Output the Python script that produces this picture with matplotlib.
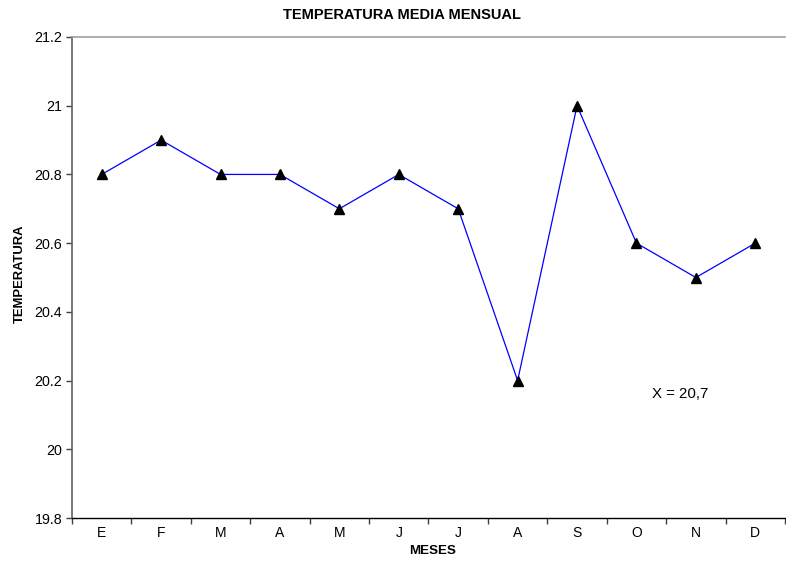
import matplotlib
matplotlib.use("Agg")
import matplotlib.pyplot as plt
from matplotlib.ticker import FixedLocator, NullFormatter

plt.rcParams['font.family'] = ['Liberation Sans', 'DejaVu Sans']

months = ["E", "F", "M", "A", "M", "J", "J", "A", "S", "O", "N", "D"]
temps = [20.8, 20.9, 20.8, 20.8, 20.7, 20.8, 20.7, 20.2, 21.0, 20.6, 20.5, 20.6]
yticks = [19.8, 20.0, 20.2, 20.4, 20.6, 20.8, 21.0, 21.2]
ytick_labels = ["19.8", "20", "20.2", "20.4", "20.6", "20.8", "21", "21.2"]
title = "TEMPERATURA MEDIA MENSUAL"
xlabel = "MESES"
ylabel = "TEMPERATURA"
note = "X = 20,7"

fig = plt.figure(figsize=(7.86, 5.62), dpi=100)
ax = fig.add_axes([72/786, 1-518/562, 713/786, (518-37)/562])

x = list(range(len(months)))
ax.plot(x, temps, color="#0000ff", linewidth=0.9, marker="^", markersize=7,
        markerfacecolor="black", markeredgecolor="black", zorder=3)

ax.set_xlim(-0.5, len(months) - 0.5)
ax.set_ylim(yticks[0], yticks[-1])
ax.set_yticks(yticks)
ax.set_yticklabels(ytick_labels, fontsize=10.3)

ax.xaxis.set_major_locator(FixedLocator([i - 0.5 for i in range(len(months) + 1)]))
ax.xaxis.set_major_formatter(NullFormatter())
ax.xaxis.set_minor_locator(FixedLocator(x))
ax.set_xticklabels(months, minor=True, fontsize=10)
ax.tick_params(axis="x", which="minor", length=0, pad=6)
ax.tick_params(axis="x", which="major", length=4, width=1, color="#404040", direction="out")
ax.tick_params(axis="y", length=4, width=1, color="#404040", direction="out", pad=3)

ax.spines["right"].set_visible(False)
ax.spines["top"].set_color("#a0a0a0")
ax.spines["top"].set_linewidth(1.2)
ax.spines["left"].set_color("#606060")
ax.spines["left"].set_linewidth(1.2)
ax.spines["bottom"].set_color("black")
ax.spines["bottom"].set_linewidth(1.0)

fig.text(402/786, 1 - 15/562, title, ha="center", va="center",
         fontsize=10.5, fontweight="bold")
fig.text(433/786, 1 - 551/562, xlabel, ha="center", va="center", fontsize=9.6, fontweight="bold")
fig.text(20/786, 1 - 274/562, ylabel, ha="center", va="center", fontsize=9.4,
         fontweight="bold", rotation=90)
ax.text(9.74, 20.16, note, ha="center", va="center", fontsize=10.8)

fig.savefig("out.png", dpi=100)
